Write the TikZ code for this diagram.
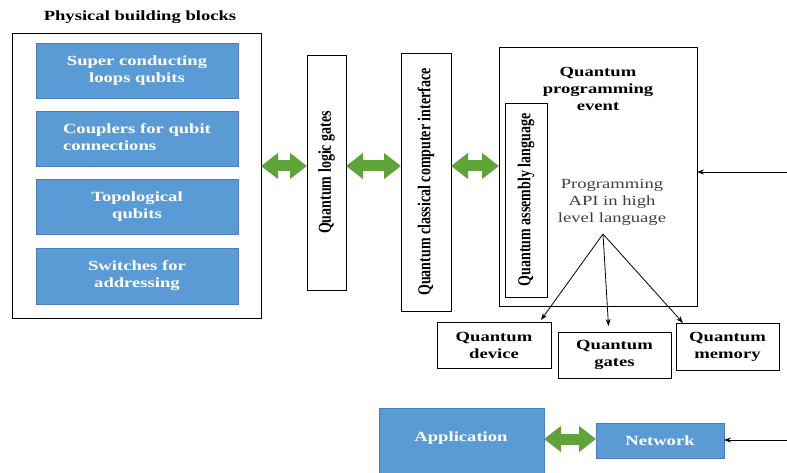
\documentclass[tikz,border=0pt]{standalone}
\usepackage{fontspec}
\setmainfont{Liberation Serif}
\newfontfamily\wide[FakeStretch=1.33]{Liberation Serif}
\usetikzlibrary{arrows.meta}
\definecolor{bfill}{HTML}{5B9BD5}
\definecolor{bdraw}{HTML}{4A7EBB}
\definecolor{garr}{HTML}{5FA33B}
\definecolor{apitext}{HTML}{404040}
\newcommand{\vtext}[1]{\rotatebox{90}{\scalebox{1}[1.3]{\normalfont\bfseries\fontsize{14}{17}\selectfont #1}}}
\begin{document}
\begin{tikzpicture}[x=1pt,y=-1pt,
  every node/.style={inner sep=0pt, outer sep=0pt},
  txt/.style={font=\wide\bfseries\fontsize{14}{17}\selectfont, align=center},
  bluebox/.style={draw=bdraw, fill=bfill, line width=0.8pt, text=white, txt},
  wbox/.style={draw=black, line width=0.8pt, txt},
  garrow/.style={draw=garr, line width=11pt, {Triangle[length=17pt,width=25pt]}-{Triangle[length=17pt,width=25pt]}},
  tarrow/.style={draw=black, line width=0.8pt, -{Stealth[length=7pt,width=5pt]}},
]
\useasboundingbox (0,0) rectangle (787,473);
\clip (0,0) rectangle (787,473);
\fill[white] (0,0) rectangle (787,473);

% left group
\node[txt] (title) at (140,17) {Physical building blocks};
\node[wbox, line width=1pt, minimum width=249pt, minimum height=284pt] (outer) at (136.5,176) {};
\node[bluebox, minimum width=202pt, minimum height=55pt] (b1) at (137,70.5) {Super conducting\\loops qubits};
\node[bluebox, minimum width=202pt, minimum height=55pt] (b2) at (137,138.5) {\begin{tabular}{@{}l@{}}Couplers for qubit\\connections\end{tabular}};
\node[bluebox, minimum width=202pt, minimum height=55pt] (b3) at (137,206.5) {Topological\\qubits};
\node[bluebox, minimum width=202pt, minimum height=56pt] (b4) at (137,276) {Switches for\\addressing};

% vertical boxes
\node[wbox, minimum width=39pt, minimum height=235pt] (lg) at (326.5,172.5)
  {\vtext{Quantum logic gates}};
\node[wbox, minimum width=50pt, minimum height=258pt] (qci) at (426,182)
  {\vtext{Quantum classical computer interface}};

% programming event box
\node[wbox, minimum width=198pt, minimum height=259pt] (big) at (598,176.5) {};
\node[txt] (qpe) at (598,89) {Quantum\\programming\\event};
\node[wbox, minimum width=42pt, minimum height=194pt] (asm) at (526,200)
  {\vtext{Quantum assembly language}};
\node[font=\wide\fontsize{14}{17}\selectfont, align=center, text=apitext] (api) at (612,202)
  {Programming\\API in high\\level language};
\coordinate (apis) at (603,234);

% output boxes
\node[wbox, minimum width=114pt, minimum height=46pt] (qd) at (494,345) {Quantum\\device};
\node[wbox, minimum width=113pt, minimum height=46pt] (qg) at (614.5,355) {Quantum\\gates};
\node[wbox, minimum width=103pt, minimum height=47pt] (qm) at (727.5,346.5) {Quantum\\memory};

% bottom
\node[bluebox, minimum width=165pt, minimum height=72pt] (app) at (461.5,444) {};
\node[txt, text=white] (apptxt) at (461,438) {Application};
\node[bluebox, minimum width=128pt, minimum height=35pt] (net) at (660,440.5) {Network};

% green arrows
\coordinate (row) at (0,166);
\draw[garrow] (outer.east |- row) -- (lg.west |- row);
\draw[garrow] (lg.east |- row) -- (qci.west |- row);
\draw[garrow] (qci.east |- row) -- (big.west |- row);
\coordinate (row2) at (0,439);
\draw[garrow] (app.east |- row2) -- (net.west |- row2);

% thin arrows
\coordinate (rin1) at (787,172);
\draw[tarrow] (rin1) -- (big.east |- rin1);
\coordinate (rin2) at (787,440);
\draw[tarrow] (rin2) -- (net.east |- rin2);
\draw[tarrow] (apis) -- ([shift={(-10,-2)}]qd.north east);
\draw[tarrow] (apis) -- ([shift={(-6,-6)}]qg.north);
\draw[tarrow] (apis) -- ([shift={(7,0)}]qm.north west);
\end{tikzpicture}
\end{document}
